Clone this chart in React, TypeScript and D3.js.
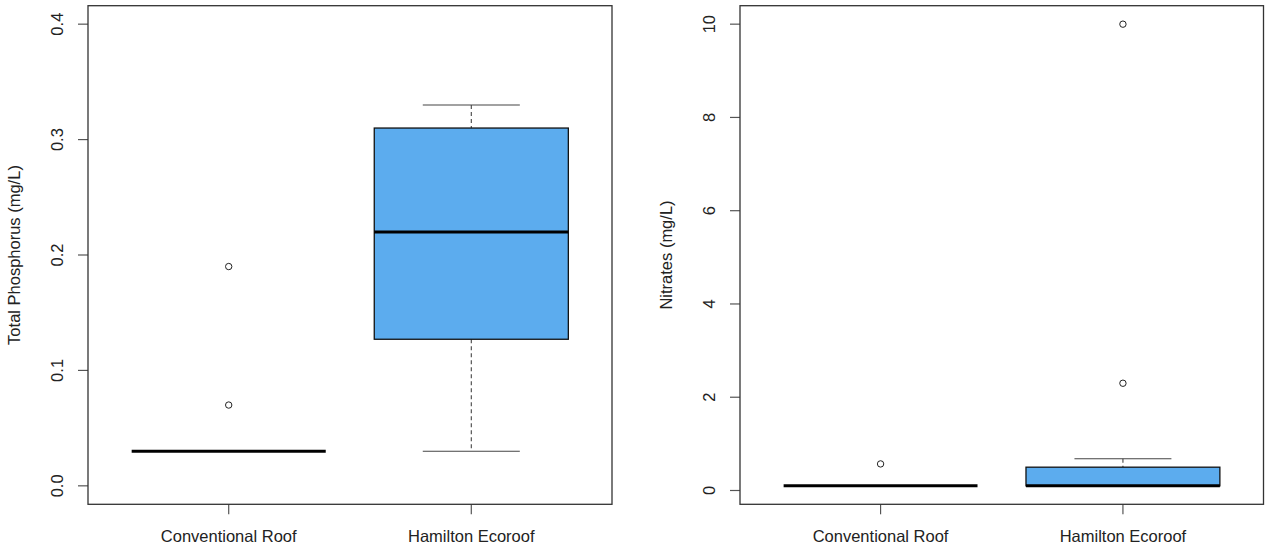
import React from 'react';
import * as d3 from 'd3';

// categories and box statistics
const categories = ['Conventional Roof', 'Hamilton Ecoroof'];

const phosLow = [0.03, 0.03];
const phosQ1 = [0.03, 0.127];
const phosMedian = [0.03, 0.22];
const phosQ3 = [0.03, 0.31];
const phosHigh = [0.03, 0.33];
const phosOutliers = [[0.07, 0.19], []];
const phosTicks = [0, 0.1, 0.2, 0.3, 0.4];
const phosTickLabels = ['0.0', '0.1', '0.2', '0.3', '0.4'];
const phosRange = [0, 0.4];

const nitLow = [0.1, 0.1];
const nitQ1 = [0.1, 0.1];
const nitMedian = [0.1, 0.1];
const nitQ3 = [0.1, 0.5];
const nitHigh = [0.1, 0.68];
const nitOutliers = [[0.57], [2.3, 10]];
const nitTicks = [0, 2, 4, 6, 8, 10];
const nitTickLabels = ['0', '2', '4', '6', '8', '10'];
const nitRange = [0.1, 10];

const W = 1265;
const H = 548;
const FONT = '"Liberation Sans", Arial, sans-serif';
const FILL = '#5CACEE';

function BoxPanel({ left, right, top, bottom, title, range, low, q1, med, q3, high, outliers, ticks, tickLabels }) {
  // R style 4% padding on both axes
  const pad = (range[1] - range[0]) * 0.04;
  const y = d3.scaleLinear().domain([range[0] - pad, range[1] + pad]).range([bottom, top]);
  const x = d3.scaleLinear().domain([0.42, 2.58]).range([left, right]);
  const boxHalf = 0.4;
  const capHalf = 0.2;

  return (
    <g fontFamily={FONT} fontSize={16.5}>
      {categories.map((c, i) => {
        const cx = x(i + 1);
        const bx0 = x(i + 1 - boxHalf);
        const bx1 = x(i + 1 + boxHalf);
        return (
          <g key={c}>
            {/* whiskers */}
            <line x1={cx} x2={cx} y1={y(high[i])} y2={y(q3[i])} stroke="#444" strokeWidth={1.1} strokeDasharray="4,3" />
            <line x1={cx} x2={cx} y1={y(q1[i])} y2={y(low[i])} stroke="#444" strokeWidth={1.1} strokeDasharray="4,3" />
            <line x1={x(i + 1 - capHalf)} x2={x(i + 1 + capHalf)} y1={y(high[i])} y2={y(high[i])} stroke="#444" strokeWidth={1.1} />
            <line x1={x(i + 1 - capHalf)} x2={x(i + 1 + capHalf)} y1={y(low[i])} y2={y(low[i])} stroke="#444" strokeWidth={1.1} />
            {/* box */}
            <rect x={bx0} width={bx1 - bx0} y={y(q3[i])} height={y(q1[i]) - y(q3[i])} fill={FILL} stroke="#111" strokeWidth={1.3} />
            <line x1={bx0} x2={bx1} y1={y(med[i])} y2={y(med[i])} stroke="#000" strokeWidth={3} />
            {outliers[i].map((v, k) => (
              <circle key={k} cx={cx} cy={y(v)} r={3.2} fill="none" stroke="#222" strokeWidth={1} />
            ))}
            {/* x axis tick + label */}
            <line x1={cx} x2={cx} y1={bottom} y2={bottom + 10} stroke="#555" strokeWidth={1.2} />
            <text x={cx} y={541.5} textAnchor="middle" fill="#222">{c}</text>
          </g>
        );
      })}

      {/* y axis */}
      {ticks.map((t, k) => (
        <g key={t}>
          <line x1={left - 10} x2={left} y1={y(t)} y2={y(t)} stroke="#555" strokeWidth={1.2} />
          <text transform={`translate(${left - 25},${y(t)}) rotate(-90)`} textAnchor="middle" fill="#222">{tickLabels[k]}</text>
        </g>
      ))}
      <text transform={`translate(${left - 68},${(top + bottom) / 2}) rotate(-90)`} textAnchor="middle" fill="#222">{title}</text>

      <rect x={left} y={top} width={right - left} height={bottom - top} fill="none" stroke="#333" strokeWidth={1.3} />
    </g>
  );
}

export default function App() {
  return (
    <svg width={W} height={H} style={{ position: 'absolute', left: 0, top: 0, background: '#fff' }}>
      <rect width={W} height={H} fill="#fff" />
      <BoxPanel
        left={88} right={612} top={5.7} bottom={504.3}
        title="Total Phosphorus (mg/L)"
        range={phosRange}
        low={phosLow} q1={phosQ1} med={phosMedian} q3={phosQ3} high={phosHigh}
        outliers={phosOutliers} ticks={phosTicks} tickLabels={phosTickLabels}
      />
      <BoxPanel
        left={740} right={1263.5} top={5.7} bottom={504.3}
        title="Nitrates (mg/L)"
        range={nitRange}
        low={nitLow} q1={nitQ1} med={nitMedian} q3={nitQ3} high={nitHigh}
        outliers={nitOutliers} ticks={nitTicks} tickLabels={nitTickLabels}
      />
    </svg>
  );
}
